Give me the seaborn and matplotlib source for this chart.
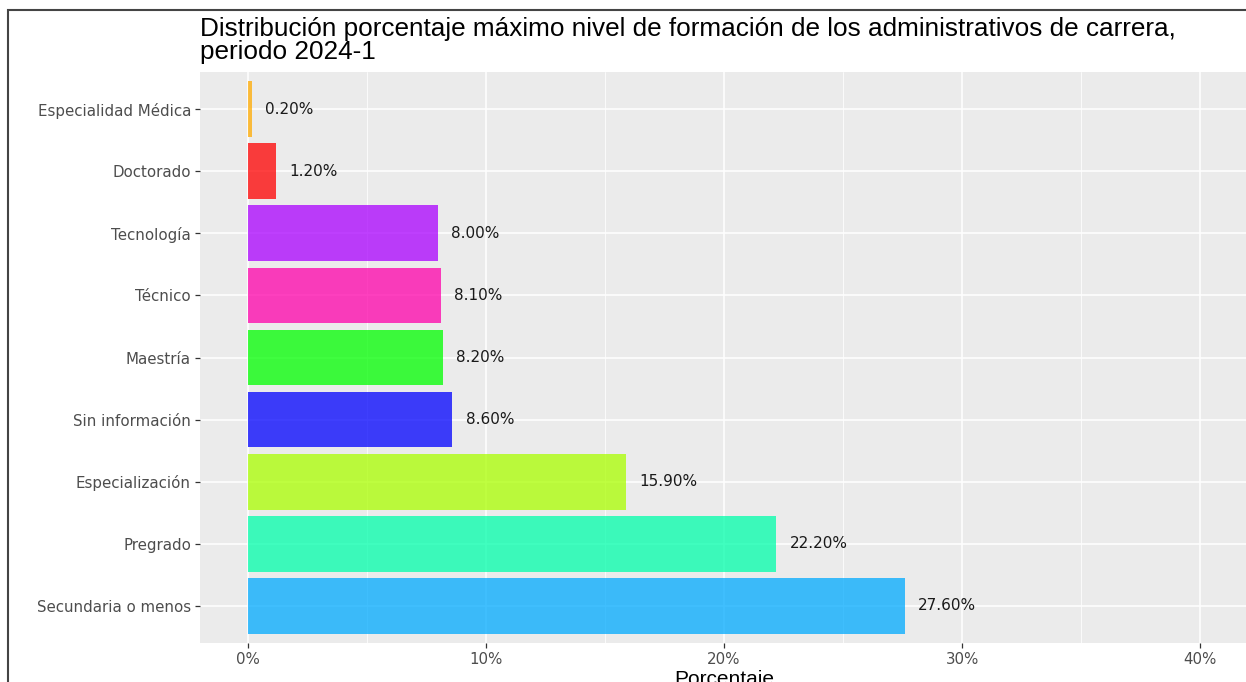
import matplotlib
matplotlib.use("Agg")
import matplotlib.pyplot as plt
import matplotlib.patches as patches
from matplotlib.ticker import MultipleLocator, FuncFormatter
import pandas as pd
import seaborn as sns

# Data
CATEGORIES = [
    "Especialidad Médica", "Doctorado", "Tecnología", "Técnico", "Maestría",
    "Sin información", "Especialización", "Pregrado", "Secundaria o menos",
]
PERCENTAGES = [0.2, 1.2, 8.0, 8.1, 8.2, 8.6, 15.9, 22.2, 27.6]
BAR_COLORS = [
    "#FFAA00", "#FF0000", "#AA00FF", "#FF00AA", "#00FF00",
    "#0000FF", "#AAFF00", "#00FFAA", "#00AAFF",
]
X_TICKS = [0, 10, 20, 30, 40]

TITLE = ("Distribución porcentaje máximo nivel de formación de los administrativos de carrera,\n"
         "periodo 2024-1")

df = pd.DataFrame({"nivel": CATEGORIES, "pct": PERCENTAGES})
palette = dict(zip(CATEGORIES, BAR_COLORS))

sns.set_theme(style="white")
plt.rcParams["font.family"] = ["DejaVu Sans"]

W, H = 1246, 682
fig = plt.figure(figsize=(W / 100, H / 100), dpi=100)
ax = fig.add_axes([200 / W, 1 - 643 / H, 1048 / W, 571 / H])
ax.set_facecolor("#EBEBEB")

sns.barplot(data=df, x="pct", y="nivel", hue="nivel", palette=palette,
            order=CATEGORIES, orient="h", width=0.9, alpha=0.75,
            saturation=1, linewidth=0, edgecolor="none",
            legend=False, ax=ax, zorder=3)

ax.set_xlim(-2, 42)
ax.set_ylim(len(CATEGORIES) - 0.4, -0.6)
ax.set_xticks(X_TICKS)
ax.xaxis.set_minor_locator(MultipleLocator(5))
ax.xaxis.set_major_formatter(FuncFormatter(lambda v, _: f"{v:.0f}%"))

ax.grid(which="major", color="white", linewidth=1.1, zorder=0)
ax.grid(which="minor", axis="x", color="white", linewidth=0.55, zorder=0)
ax.set_axisbelow(True)
for s in ax.spines.values():
    s.set_visible(False)

ax.tick_params(axis="both", which="major", length=3.5, width=0.9, color="#333333",
               labelcolor="#4D4D4D", labelsize=10.8, pad=3)
ax.tick_params(axis="x", which="minor", length=0)
ax.tick_params(axis="both", which="major", bottom=True, left=True)

for i, v in enumerate(PERCENTAGES):
    ax.text(v + 0.55, i, f"{v:.2f}%", va="center", ha="left",
            fontsize=11, color="#1A1A1A", zorder=4)

ax.set_ylabel("")
ax.set_xlabel("Porcentaje", fontsize=15, color="black", labelpad=2,
              family="Liberation Sans")

fig.text(200 / W, 1 - 17 / H, TITLE, ha="left", va="top", fontsize=18.8,
         color="black", linespacing=0.95, family="Liberation Sans")

# frame of the screenshot
fig.add_artist(patches.Rectangle((8 / W, -0.1), 1.2, 1 - 10 / H + 0.1,
                                 transform=fig.transFigure, fill=False,
                                 edgecolor="#444444", linewidth=1.5))

fig.savefig("out.png", dpi=100)
